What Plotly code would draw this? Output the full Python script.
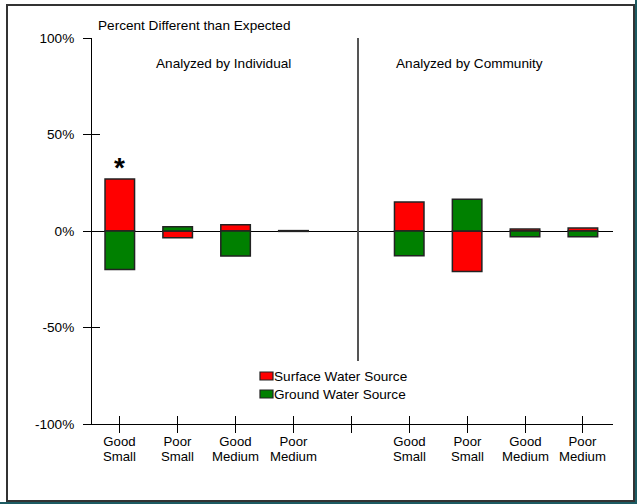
import plotly.graph_objects as go

# ---- data ----
categories = ["Good<br>Small", "Poor<br>Small", "Good<br>Medium", "Poor<br>Medium", "",
              "Good<br>Small", "Poor<br>Small", "Good<br>Medium", "Poor<br>Medium"]
surface_water = [27, -3.5, 3.3, 0.2, None, 15, -21, 1.0, 1.5]
ground_water = [-20, 2.2, -13, -0.2, None, -12.8, 16.5, -3.0, -3.0]
y_tick_vals = [-100, -50, 0, 50, 100]
y_tick_text = ["-100%", "-50%", "0%", "50%", "100%"]
series_names = ["Surface Water Source", "Ground Water Source"]
series_colors = ["#ff0000", "#008000"]

positions = list(range(len(categories)))

W, H = 637, 504
L, R, T, B = 92, 24, 38, 80
PW, PH = W - L - R, H - T - B


def px_x(p):
    return (p - L) / PW


def px_y(p):
    return (H - B - p) / PH


FONT = "Liberation Sans, Arial, sans-serif"
FS = 13.6
OUTLINE = dict(color="#222222", width=1.5)

fig = go.Figure()
for name, vals, col in zip(series_names, [surface_water, ground_water], series_colors):
    fig.add_trace(go.Bar(x=positions, y=vals, name=name,
                         marker=dict(color=col, line=OUTLINE), width=0.51,
                         showlegend=False, hoverinfo="skip"))
# invisible trace for overlay axes (crossing ticks)
fig.add_trace(go.Scatter(x=[positions[0]], y=[0], xaxis="x2", yaxis="y2",
                         mode="markers", marker=dict(opacity=0), showlegend=False,
                         hoverinfo="skip"))

fig.update_layout(
    width=W, height=H,
    margin=dict(l=L, r=R, t=T, b=B),
    paper_bgcolor="white", plot_bgcolor="white",
    barmode="relative",
    font=dict(family=FONT, size=FS, color="black"),
    showlegend=False,
    xaxis=dict(range=[-0.48, 8.52], tickvals=positions, showticklabels=False,
               showgrid=False, zeroline=False, showline=True, linecolor="black",
               linewidth=1, ticks="outside", ticklen=8, tickcolor="black",
               tickwidth=1),
    yaxis=dict(range=[-100, 100], tickvals=y_tick_vals, ticktext=y_tick_text,
               showgrid=False, zeroline=True, zerolinecolor="black", zerolinewidth=1,
               showline=True, linecolor="black", linewidth=1, ticks="outside",
               ticklen=8, tickcolor="black", tickwidth=1,
               tickfont=dict(size=FS, family=FONT), ticklabelstandoff=6),
    xaxis2=dict(overlaying="x", range=[-0.48, 8.52], tickvals=positions,
                showticklabels=False, showgrid=False, zeroline=False,
                ticks="inside", ticklen=8, tickcolor="black", side="bottom",
                anchor="y"),
    yaxis2=dict(overlaying="y", range=[-100, 100], tickvals=y_tick_vals,
                showticklabels=False, showgrid=False, zeroline=False,
                ticks="inside", ticklen=8, tickcolor="black", side="left",
                anchor="x"),
)

annotations = [
    dict(text="Percent Different than Expected", xref="paper", yref="paper",
         x=px_x(96), y=px_y(26), xanchor="left", yanchor="middle",
         showarrow=False, font=dict(size=FS, family=FONT)),
    dict(text="Analyzed by Individual", xref="paper", yref="paper",
         x=px_x(223), y=px_y(63), xanchor="center", yanchor="middle",
         showarrow=False, font=dict(size=FS, family=FONT)),
    dict(text="Analyzed by Community", xref="paper", yref="paper",
         x=px_x(469), y=px_y(63), xanchor="center", yanchor="middle",
         showarrow=False, font=dict(size=FS, family=FONT)),
    dict(text="<b>*</b>", xref="x", yref="y", x=positions[0], y=surface_water[0],
         xanchor="center", yanchor="bottom", yshift=-6, showarrow=False,
         font=dict(size=28, family=FONT)),
]

# category labels: one annotation per category; base font sets a compact
# line spacing while spans keep the glyph size
for pos, label in zip(positions, categories):
    if not label:
        continue
    txt = "<br>".join("<span style='font-size:13.2px'>%s</span>" % p
                      for p in label.split("<br>"))
    annotations.append(dict(text=txt, xref="x", yref="paper", x=pos, y=0,
                            xanchor="center", yanchor="middle", yshift=-25,
                            showarrow=False, font=dict(size=11.7, family=FONT)))

shapes = [
    # divider between groups
    dict(type="line", xref="paper", yref="paper", x0=px_x(358), x1=px_x(358),
         y0=1, y1=px_y(361), line=dict(color="#555555", width=2)),
    # outer frame
    dict(type="rect", xref="paper", yref="paper", x0=px_x(7), x1=px_x(634),
         y0=px_y(501), y1=px_y(5), line=dict(color="#333333", width=2),
         layer="below"),
    # teal edges
    dict(type="rect", xref="paper", yref="paper", x0=px_x(635), x1=px_x(640),
         y0=px_y(504), y1=px_y(0), line=dict(width=0), fillcolor="#1d5b62"),
    dict(type="rect", xref="paper", yref="paper", x0=px_x(0), x1=px_x(640),
         y0=px_y(506), y1=px_y(502), line=dict(width=0), fillcolor="#1d5b62"),
]

# manual legend (icon right next to text, as in the original)
for i, (name, col) in enumerate(zip(series_names, series_colors)):
    cy = 376 + 18 * i
    shapes.append(dict(type="rect", xref="paper", yref="paper",
                       x0=px_x(260), x1=px_x(273), y0=px_y(cy + 4), y1=px_y(cy - 4),
                       fillcolor=col, line=dict(color="#222222", width=1.2)))
    annotations.append(dict(text=name, xref="paper", yref="paper",
                            x=px_x(272), y=px_y(cy), xanchor="left", yanchor="middle",
                            showarrow=False, font=dict(size=FS, family=FONT)))

fig.update_layout(annotations=annotations, shapes=shapes)

fig.write_html("out.html", config={"displayModeBar": False},
               post_script="document.body.style.margin='0';document.body.style.overflow='hidden';")
